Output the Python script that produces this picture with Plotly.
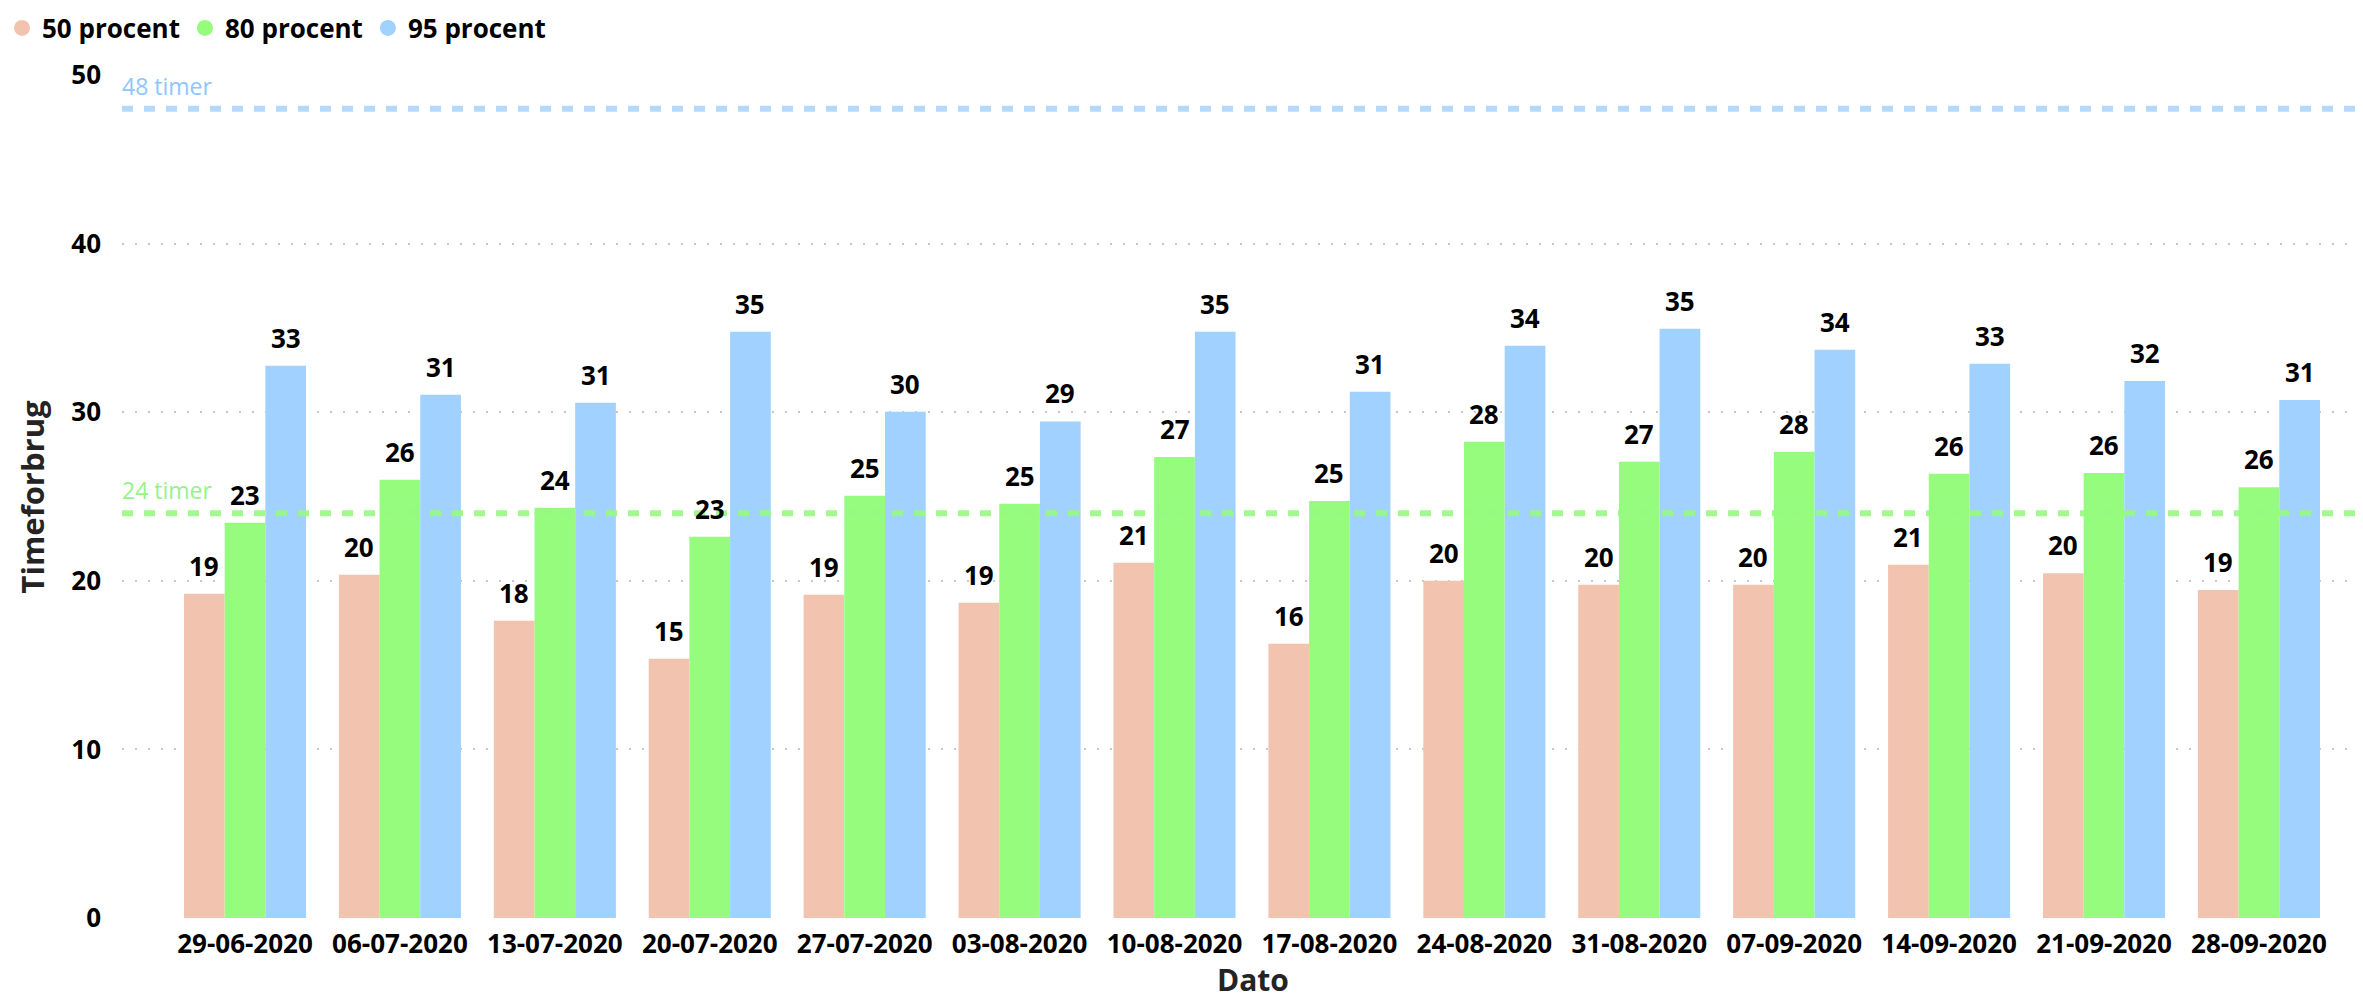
import plotly.graph_objects as go

# ---------------- data ----------------
dates = ["29-06-2020", "06-07-2020", "13-07-2020", "20-07-2020", "27-07-2020",
         "03-08-2020", "10-08-2020", "17-08-2020", "24-08-2020", "31-08-2020",
         "07-09-2020", "14-09-2020", "21-09-2020", "28-09-2020"]
p50 = [19.23, 20.36, 17.63, 15.38, 19.17, 18.70, 21.07, 16.27, 20.0, 19.76, 19.76, 20.95, 20.45, 19.45]
p80 = [23.44, 25.99, 24.33, 22.61, 25.04, 24.57, 27.35, 24.74, 28.24, 27.06, 27.65, 26.35, 26.4, 25.55]
p95 = [32.75, 31.03, 30.56, 34.77, 30.02, 29.45, 34.77, 31.21, 33.94, 34.95, 33.71, 32.87, 31.85, 30.73]
series_names = ["50 procent", "80 procent", "95 procent"]
ref_values = [48, 24]
ref_labels = ["48 timer", "24 timer"]
y_ticks = [0, 10, 20, 30, 40, 50]

# ---------------- style ----------------
W, H = 2363, 1003
ML, MR, MT, MB = 122, 6, 75, 85
FONT = "Open Sans"
colors = ["#F2C4B0", "#96FC7E", "#A1D1FF"]
ref_line_colors = ["rgba(160,208,255,0.8)", "rgba(150,250,130,0.9)"]
ref_text_colors = ["#8EC6FF", "#97F28A"]
BARGAP = 0.212
XR = [-0.794, 13.633]

plot_w = W - ML - MR
plot_h = H - MT - MB
cat_px = plot_w / (XR[1] - XR[0])
bar_px = cat_px * (1 - BARGAP) / 3

fig = go.Figure()
all_series = [p50, p80, p95]
for name, vals, col in zip(series_names, all_series, colors):
    fig.add_trace(go.Bar(x=dates, y=vals, name=name, marker=dict(color=col, line=dict(width=0)),
                         showlegend=False, hoverinfo="x+y"))
# legend entries with circle symbols
for name, col in zip(series_names, colors):
    fig.add_trace(go.Scatter(x=[None], y=[None], mode="markers", name=name,
                             marker=dict(symbol="circle", size=20, color=col)))

annotations = []
for i, vals in enumerate(all_series):
    for d, v in zip(dates, vals):
        annotations.append(dict(x=d, y=v, xref="x", yref="y", text=f"<b>{v:.0f}</b>",
                                showarrow=False, yanchor="bottom", xanchor="center",
                                xshift=(i - 1) * bar_px, yshift=8,
                                font=dict(family=FONT, size=26, color="#000000")))

shapes = []
for rv, lc, tc, lab in zip(ref_values, ref_line_colors, ref_text_colors, ref_labels):
    shapes.append(dict(type="line", xref="paper", yref="y", x0=0, x1=1, y0=rv, y1=rv,
                       line=dict(color=lc, width=6, dash="11px,11px"), layer="above"))
    annotations.append(dict(x=0, y=rv, xref="paper", yref="y", text=lab, showarrow=False,
                            xanchor="left", yanchor="middle", yshift=23, xshift=-2,
                            font=dict(family=FONT, size=23, color=tc)))

annotations.append(dict(x=-(ML - 31) / plot_w, y=0.5, xref="paper", yref="paper",
                        text="<b>Timeforbrug</b>", textangle=-90, showarrow=False,
                        xanchor="center", yanchor="middle",
                        font=dict(family=FONT, size=31, color="#252423")))
annotations.append(dict(x=(1253 - ML) / plot_w, y=-MB / plot_h, xref="paper", yref="paper",
                        text="<b>Dato</b>", showarrow=False, xanchor="center", yanchor="bottom",
                        yshift=1, font=dict(family=FONT, size=30, color="#252423")))

fig.update_layout(
    width=W, height=H,
    margin=dict(l=ML, r=MR, t=MT, b=MB, autoexpand=False),
    paper_bgcolor="white", plot_bgcolor="white",
    barmode="group", bargap=BARGAP, bargroupgap=0,
    font=dict(family=FONT, color="#000000"),
    showlegend=True,
    legend=dict(orientation="h", x=(2 - ML) / plot_w, xanchor="left", y=1 + (MT - 28) / plot_h,
                yanchor="middle", font=dict(family=FONT, size=26, color="#000000", weight="bold"),
                itemsizing="trace", tracegroupgap=0, bgcolor="rgba(0,0,0,0)",
                traceorder="normal"),
    xaxis=dict(type="category", range=XR, showgrid=False, zeroline=False, showline=False,
               ticks="", tickfont=dict(family=FONT, size=26, color="#000000"),
               ticklabelstandoff=8, tickprefix="<b>", ticksuffix="</b>"),
    yaxis=dict(range=[0, 50], tickvals=y_ticks, ticktext=[f"<b>{t}</b>" for t in y_ticks],
               showgrid=True, gridcolor="#C8C8C8", gridwidth=2, griddash="2px,11px",
               zeroline=False, showline=False, ticks="",
               tickfont=dict(family=FONT, size=26, color="#000000"), ticklabelstandoff=20),
    annotations=annotations, shapes=shapes,
)
fig.write_html("out.html", config={"displayModeBar": False},
               post_script="document.body.style.margin='0';document.body.style.overflow='hidden';")
